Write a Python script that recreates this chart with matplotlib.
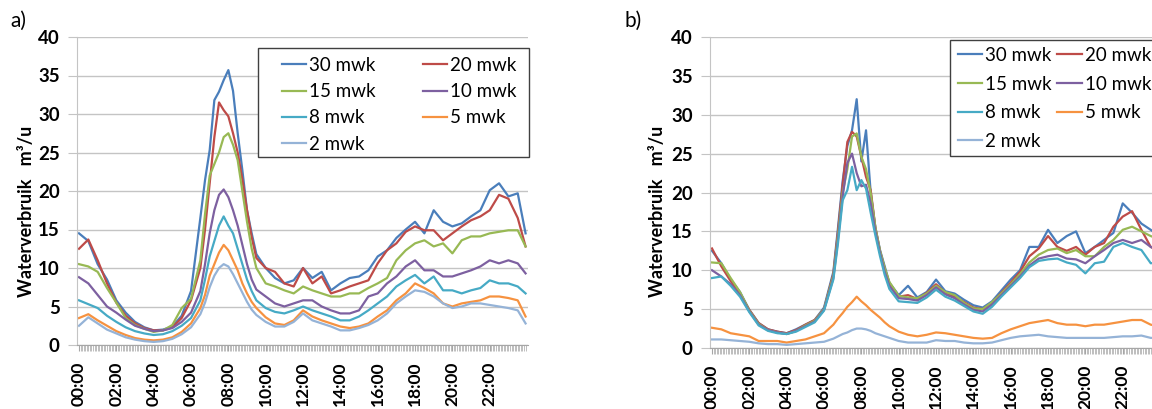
import matplotlib
matplotlib.use('Agg')
import matplotlib.pyplot as plt
from matplotlib.patches import Rectangle

plt.rcParams['font.family'] = ['Lato', 'DejaVu Sans']

# time of day in hours (finer steps around the morning peak)
hours = [0.0, 0.5, 1.0, 1.5, 2.0, 2.5, 3.0, 3.5, 4.0, 4.5, 5.0, 5.5, 6.0, 6.5,
         6.75, 7.0, 7.25, 7.5, 7.75, 8.0, 8.25, 8.5, 8.75, 9.0, 9.25,
         9.5, 10.0, 10.5, 11.0, 11.5, 12.0, 12.5, 13.0, 13.5, 14.0, 14.5, 15.0,
         15.5, 16.0, 16.5, 17.0, 17.5, 18.0, 18.5, 19.0, 19.5, 20.0, 20.5, 21.0,
         21.5, 22.0, 22.5, 23.0, 23.5,
         23.92]
tick_hours = [0, 2, 4, 6, 8, 10, 12, 14, 16, 18, 20, 22]
tick_labels = ['00:00', '02:00', '04:00', '06:00', '08:00', '10:00',
               '12:00', '14:00', '16:00', '18:00', '20:00', '22:00']

labels = ['30 mwk', '20 mwk', '15 mwk', '10 mwk', '8 mwk', '5 mwk', '2 mwk']
colors = ['#4A7EBB', '#BE4B48', '#98B954', '#7D60A0', '#46AAC5', '#F69240', '#95B3D7']

# ---- panel a ----
a_30 = [14.5, 13.5, 10.5, 8.5, 5.8, 4.2, 3.0, 2.3, 1.9, 2.0, 2.4, 3.8, 7.0, 16.5,
        21.4, 25.3, 31.8, 32.9, 34.4, 35.7, 33.0, 27.5, 22.7, 17.5, 14.5,
        11.8, 10.0, 8.7, 8.0, 8.4, 10.0, 8.7, 9.5, 7.1, 8.0, 8.7, 8.9, 9.7, 11.5, 12.3,
        13.9, 15.0, 16.0, 14.5, 17.5, 16.0, 15.4, 15.8, 16.7, 17.5, 20.1, 21.0, 19.3, 19.7,
        14.5]
a_20 = [12.5, 13.7, 11.0, 8.0, 5.5, 3.8, 2.8, 2.2, 1.9, 1.9, 2.3, 3.5, 5.8, 10.0,
        15.0, 21.0, 27.0, 31.5, 30.5, 29.7, 27.5, 25.0, 21.5, 17.5, 14.0,
        11.3, 10.0, 9.5, 8.0, 7.6, 10.0, 8.0, 8.9, 6.7, 7.1, 7.6, 8.0, 8.4, 10.6, 12.3,
        13.2, 14.7, 15.4, 14.9, 14.9, 13.6, 14.5, 15.4, 16.2, 16.7, 17.5, 19.5, 19.0, 16.5,
        12.8]
a_15 = [10.5, 10.2, 9.5, 7.4, 5.5, 3.5, 2.6, 2.1, 1.7, 1.9, 2.6, 4.8, 6.0, 11.0,
        17.0, 22.0, 23.5, 25.0, 27.0, 27.5, 26.0, 24.0, 20.0, 16.0, 12.5,
        10.0, 8.0, 7.6, 7.1, 6.7, 7.6, 7.1, 6.7, 6.3, 6.3, 6.7, 6.7, 7.4, 8.0, 8.7,
        11.0, 12.3, 13.2, 13.6, 12.8, 13.2, 11.9, 13.6, 14.1, 14.1, 14.5, 14.7, 14.9, 14.9,
        12.8]
a_10 = [8.8, 8.0, 6.5, 5.0, 4.2, 3.3, 2.5, 2.1, 1.8, 1.9, 2.2, 3.0, 4.2, 7.0,
        10.5, 14.5, 17.5, 19.5, 20.2, 19.2, 17.5, 15.5, 13.0, 10.5, 8.5,
        7.2, 6.3, 5.4, 5.0, 5.4, 5.8, 5.8, 5.0, 4.5, 4.1, 4.1, 4.5, 6.3, 6.7, 8.0,
        8.9, 10.2, 11.0, 9.7, 9.7, 8.9, 8.9, 9.3, 9.7, 10.2, 11.0, 10.6, 11.0, 10.6,
        9.3]
a_8 = [5.8, 5.3, 4.8, 3.8, 3.0, 2.3, 1.8, 1.5, 1.3, 1.4, 1.8, 2.5, 3.5, 5.8,
       8.5, 11.5, 13.5, 15.5, 16.7, 15.5, 14.5, 12.5, 10.5, 8.5, 7.0,
       5.8, 4.8, 4.3, 4.1, 4.5, 5.0, 4.5, 4.1, 3.7, 3.2, 3.2, 3.7, 4.5, 5.4, 6.3,
       7.6, 8.4, 9.1, 8.0, 8.9, 7.1, 7.1, 6.7, 7.1, 7.4, 8.4, 8.0, 8.0, 7.6,
       6.7]
a_5 = [3.5, 4.0, 3.2, 2.5, 1.8, 1.3, 0.9, 0.7, 0.6, 0.7, 1.0, 1.7, 2.8, 4.8,
       6.5, 9.0, 10.5, 12.0, 13.0, 12.3, 11.0, 9.7, 8.0, 6.7, 5.6,
       4.8, 3.6, 2.8, 2.6, 3.2, 4.5, 3.7, 3.2, 2.8, 2.4, 2.2, 2.4, 2.8, 3.7, 4.5,
       5.8, 6.7, 8.0, 7.4, 6.7, 5.4, 5.0, 5.4, 5.6, 5.8, 6.3, 6.3, 6.1, 5.8,
       3.7]
a_2 = [2.5, 3.6, 2.8, 2.0, 1.5, 1.0, 0.7, 0.5, 0.4, 0.5, 0.8, 1.4, 2.3, 4.0,
       5.5, 7.5, 9.0, 10.0, 10.5, 10.2, 9.2, 8.0, 6.8, 5.6, 4.6,
       3.9, 3.0, 2.4, 2.4, 3.0, 4.1, 3.2, 2.8, 2.4, 1.9, 1.9, 2.2, 2.6, 3.2, 4.1,
       5.4, 6.3, 7.1, 6.9, 6.3, 5.4, 4.8, 5.0, 5.4, 5.4, 5.2, 5.0, 4.8, 4.5,
       2.8]

# ---- panel b ----
b_30 = [12.5, 10.9, 8.8, 7.2, 4.9, 3.2, 2.4, 2.1, 1.9, 2.4, 3.0, 3.6, 5.2, 9.8,
        15.5, 21.5, 26.0, 28.0, 32.0, 24.0, 28.0, 20.0, 15.5, 12.6, 10.5,
        8.4, 6.8, 8.0, 6.5, 7.2, 8.8, 7.3, 7.0, 6.2, 5.5, 5.2, 6.0, 7.4, 8.8, 10.0,
        13.0, 13.0, 15.2, 13.5, 14.4, 15.0, 12.2, 13.0, 13.9, 14.8, 18.6, 17.4, 16.0, 15.2,
        14.5]
b_20 = [12.8, 10.5, 8.6, 7.0, 4.9, 3.2, 2.4, 2.1, 1.9, 2.3, 3.0, 3.6, 5.0, 9.5,
        15.0, 21.0, 26.5, 27.8, 27.2, 24.6, 22.0, 20.3, 15.5, 12.4, 10.2,
        8.3, 6.6, 6.8, 6.3, 7.1, 8.2, 7.1, 6.6, 5.9, 5.2, 5.0, 5.8, 7.1, 8.4, 9.8,
        11.8, 12.8, 14.4, 13.0, 12.5, 13.0, 12.0, 13.0, 13.5, 15.6, 16.9, 17.6, 15.2, 13.0,
        12.5]
b_15 = [11.0, 10.9, 9.0, 7.2, 4.8, 3.1, 2.3, 2.0, 1.8, 2.2, 2.9, 3.5, 5.0, 9.3,
        14.5, 20.0, 23.0, 27.2, 27.6, 24.6, 23.0, 19.9, 15.5, 12.5, 10.3,
        8.5, 6.7, 6.5, 6.4, 7.0, 8.0, 7.2, 6.8, 5.8, 5.1, 5.0, 5.9, 7.0, 8.2, 9.5,
        11.0, 12.0, 12.6, 12.8, 12.2, 12.6, 11.8, 11.8, 13.0, 13.9, 15.2, 15.6, 15.0, 14.4,
        14.0]
b_10 = [10.0, 9.2, 8.2, 6.8, 4.7, 3.0, 2.3, 2.0, 1.8, 2.2, 2.8, 3.4, 4.9, 9.0,
        14.0, 19.5, 23.8, 25.0, 22.5, 20.8, 21.0, 18.6, 15.0, 12.2, 9.8,
        8.0, 6.4, 6.3, 6.1, 6.8, 7.8, 6.9, 6.4, 5.6, 4.9, 4.7, 5.6, 6.8, 8.0, 9.2,
        10.6, 11.5, 11.8, 12.0, 11.5, 11.4, 10.9, 11.8, 12.6, 13.5, 13.9, 13.5, 13.9, 13.0,
        12.5]
b_8 = [9.0, 9.2, 8.0, 6.6, 4.6, 2.9, 2.2, 1.9, 1.8, 2.1, 2.7, 3.3, 4.8, 8.8,
       13.5, 19.0, 20.3, 23.3, 20.3, 21.6, 20.5, 17.4, 14.5, 11.8, 9.4,
       7.6, 6.0, 5.9, 5.8, 6.5, 7.5, 6.6, 6.1, 5.4, 4.7, 4.4, 5.3, 6.6, 7.8, 9.0,
       10.4, 11.2, 11.4, 11.5, 11.0, 10.7, 9.6, 10.9, 11.1, 13.0, 13.5, 13.0, 12.6, 10.9,
       11.0]
b_5 = [2.6, 2.4, 1.9, 1.7, 1.5, 0.9, 0.9, 0.9, 0.7, 0.9, 1.1, 1.5, 1.9, 3.0,
       3.8, 4.5, 5.3, 5.9, 6.6, 6.0, 5.5, 4.9, 4.4, 3.9, 3.3,
       2.8, 2.1, 1.7, 1.5, 1.7, 2.0, 1.9, 1.7, 1.5, 1.3, 1.2, 1.3, 1.9, 2.4, 2.8,
       3.2, 3.4, 3.6, 3.2, 3.0, 3.0, 2.8, 3.0, 3.0, 3.2, 3.4, 3.6, 3.6, 3.0,
       2.8]
b_2 = [1.1, 1.1, 1.0, 0.9, 0.8, 0.6, 0.5, 0.5, 0.4, 0.5, 0.6, 0.7, 0.8, 1.2,
       1.5, 1.8, 2.0, 2.3, 2.5, 2.5, 2.4, 2.2, 1.9, 1.7, 1.5,
       1.3, 0.9, 0.7, 0.7, 0.7, 1.0, 0.9, 0.9, 0.7, 0.6, 0.6, 0.7, 1.0, 1.3, 1.5,
       1.6, 1.7, 1.5, 1.4, 1.3, 1.3, 1.3, 1.3, 1.3, 1.4, 1.5, 1.5, 1.6, 1.3,
       1.3]

series_a = [a_30, a_20, a_15, a_10, a_8, a_5, a_2]
series_b = [b_30, b_20, b_15, b_10, b_8, b_5, b_2]

W, H = 1152, 409
fig = plt.figure(figsize=(W / 100, H / 100), dpi=100)


def px_axes(left, top, right, bottom):
    return fig.add_axes([left / W, 1 - bottom / H, (right - left) / W, (bottom - top) / H])


def style_axes(ax):
    ax.set_ylim(0, 40)
    ax.set_xlim(-0.107, 24.05)
    ax.set_yticks(range(0, 41, 5))
    ax.yaxis.grid(True, color='#C4C4C4', linewidth=1.0)
    ax.set_axisbelow(True)
    for s in ['top', 'right']:
        ax.spines[s].set_visible(False)
    ax.spines['left'].set_color('#C4C4C4')
    ax.spines['bottom'].set_color('#A6A6A6')
    ax.tick_params(axis='y', length=6.5, color='#C4C4C4', pad=6, labelsize=13.5)
    ax.set_xticks(tick_hours)
    ax.set_xticklabels(tick_labels, rotation=90)
    ax.set_xticks([m / 12 for m in range(288)], minor=True)
    ax.tick_params(axis='x', which='major', length=4, color='#A6A6A6', pad=8, labelsize=12.5)
    ax.tick_params(axis='x', which='minor', length=4, width=0.4, color='#8C8C8C')
    for lab in ax.get_xticklabels() + ax.get_yticklabels():
        lab.set_fontweight('bold')


def draw_panel(ax, series):
    lines = []
    for vals, lab, col in zip(series, labels, colors):
        ln, = ax.plot(hours, vals, color=col, linewidth=1.6, label=lab)
        lines.append(ln)
    return lines


# legend is filled row by row in the original: reorder for matplotlib's column filling
leg_order = [0, 2, 4, 6, 1, 3, 5]


def add_legend(ax, lines, box, text_left, text_top, colsp, labsp):
    # box = (left, top, right, bottom) in figure pixels
    l, t, r, b = box
    ax.add_patch(Rectangle((l / W, 1 - b / H), (r - l) / W, (b - t) / H,
                           transform=fig.transFigure, facecolor='white',
                           edgecolor='#404040', linewidth=1.0, zorder=4.9, clip_on=False))
    inv = ax.transAxes.inverted()
    anchor = inv.transform(fig.transFigure.transform((text_left / W, 1 - text_top / H)))
    ax.legend([lines[i] for i in leg_order], [labels[i] for i in leg_order],
              ncol=2, loc='upper left', bbox_to_anchor=tuple(anchor),
              borderaxespad=0, borderpad=0, frameon=False, fontsize=13.5,
              handlelength=1.3, handletextpad=0.15, columnspacing=colsp,
              labelspacing=labsp)


ax_a = px_axes(77, 37, 528, 345)
style_axes(ax_a)
lines_a = draw_panel(ax_a, series_a)
add_legend(ax_a, lines_a, (258, 48, 529, 157), 282, 57, 2.5, 0.49)

ax_b = px_axes(710, 37, 1161, 348)
style_axes(ax_b)
lines_b = draw_panel(ax_b, series_b)
add_legend(ax_b, lines_b, (950, 40, 1200, 156), 958, 47, 0.3, 0.62)

# axis titles and panel letters
for x_px in [27, 658]:
    fig.text(x_px / W, 1 - 211 / H, 'Waterverbruik   m\u00b3/u', rotation=90,
             ha='center', va='center', fontsize=13, fontweight='bold')
fig.text(10 / W, 1 - 21 / H, 'a)', ha='left', va='center', fontsize=15)
fig.text(625 / W, 1 - 21 / H, 'b)', ha='left', va='center', fontsize=15)

fig.savefig('out.png', dpi=100)
